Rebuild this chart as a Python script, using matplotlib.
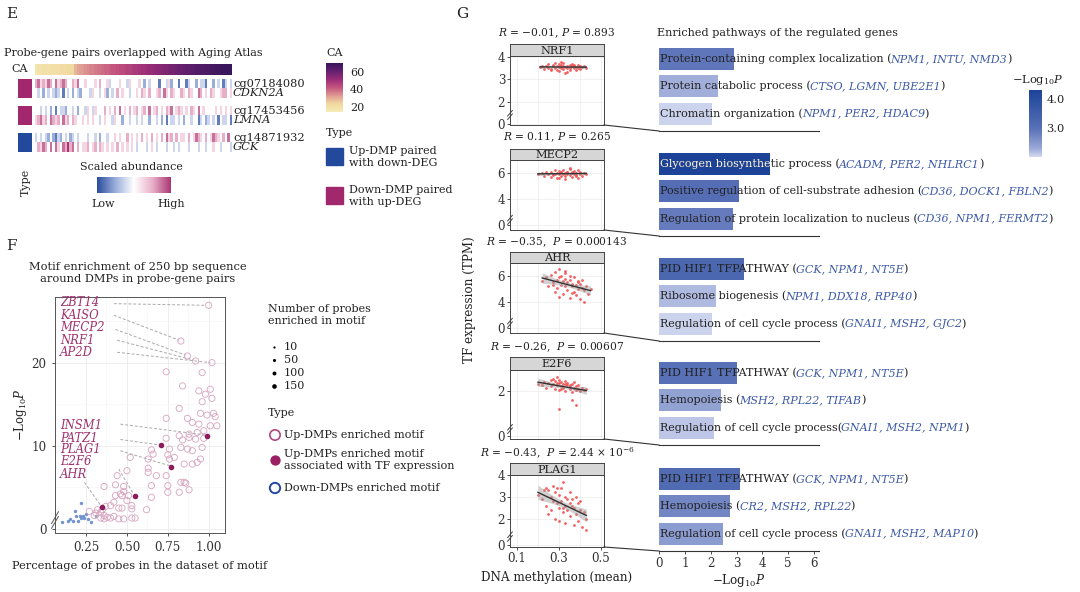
import numpy as np
import matplotlib
matplotlib.use("Agg")
import matplotlib.pyplot as plt
from matplotlib.colors import LinearSegmentedColormap, Normalize
from matplotlib.cm import ScalarMappable

plt.rcParams["font.family"] = ["DejaVu Serif"]
plt.rcParams["mathtext.fontset"] = "custom"
plt.rcParams["mathtext.rm"] = "DejaVu Serif"
plt.rcParams["mathtext.it"] = "DejaVu Serif:italic"
plt.rcParams["mathtext.bf"] = "DejaVu Serif:bold"

W, H = 1080, 592
fig = plt.figure(figsize=(W / 100, H / 100), dpi=100)


def box(x0, y0, x1, y1):
    # pixel box (top-left origin) -> figure fraction rect
    return [x0 / W, 1 - y1 / H, (x1 - x0) / W, (y1 - y0) / H]


TXT = "#222222"
MAG = "#a0306e"
GENE_BLUE = "#3d5aa8"
FS = 8.0

# ---------------- data: panel E ----------------
ca_age = [18, 19, 19, 20, 20, 20, 21, 21, 21, 21, 22, 22, 22, 23, 23, 23,
          29, 31, 32, 33, 34, 35, 36, 36, 37, 38, 38, 39, 40, 40, 41, 42,
          42, 43, 44, 44, 45, 46, 46, 47, 48, 48, 49, 50, 50, 51, 52, 52,
          53, 54, 54, 55, 56, 56, 57, 58, 58, 59, 60, 60, 61, 62, 62, 63,
          63, 64, 64, 65, 65, 66, 66, 67, 67, 68, 68, 69, 69, 70, 70, 70]
row_names = ["cg07184080", "CDKN2A", "cg17453456", "LMNA", "cg14871932", "GCK"]
pair_type = ["Down-DMP paired with up-DEG", "Down-DMP paired with up-DEG",
             "Up-DMP paired with down-DEG"]
# scaled abundance, one digit per sample: 0 = low, 4 = mid, 8 = high
abund_rows = [
    "67565764756764465744" "54445464453444544354" "44542434441443524414" "41344243314424341343",
    "43424343234143424324" "44354434524346454434" "45465464456475465446" "54654476454654456645",
    "44343424143324434244" "35435444645464745464" "56456474564546574565" "45465474544445454545",
    "56756476564756465445" "45454434544354424434" "43434424434241433434" "24434413423434143341",
    "34343242132434234344" "43443424434454544645" "45464546454647564645" "54645765464576546474",
    "46576474754768674645" "56456465454546454545" "43444345434443443434" "44344434434454434443",
]

# ---------------- data: panel F ----------------
up_pct = [1.00, 0.83, 0.87, 0.92, 1.02, 0.74, 0.96, 0.84, 0.94, 0.98, 1.01, 0.96, 1.02,
          0.82, 0.95, 1.03, 0.99, 1.04, 1.05, 0.74, 0.87, 0.90, 0.94, 1.01, 0.97, 0.93,
          0.88, 0.82, 0.74, 0.88, 0.92, 0.97, 0.84, 0.83, 0.76, 0.87, 0.90, 0.96, 0.95,
          0.93, 0.85, 0.90, 0.65, 0.66, 0.63, 0.75, 0.79, 0.76, 0.63, 0.68, 0.74, 0.75,
          0.75, 0.82, 0.83, 0.85, 0.86, 0.88, 0.63, 0.65, 0.65, 0.62, 0.52, 0.50, 0.44,
          0.43, 0.48, 0.48, 0.46, 0.43, 0.47, 0.51, 0.53, 0.50, 0.47, 0.53, 0.45, 0.42,
          0.40, 0.36, 0.37, 0.35, 0.34, 0.32, 0.31, 0.36, 0.38, 0.40, 0.42, 0.45, 0.48,
          0.53, 0.55, 0.27, 0.30, 0.34, 0.36]
up_logp = [26.9, 22.6, 20.8, 20.2, 20.0, 18.9, 18.8, 17.2, 16.6, 16.2, 16.8, 15.3, 15.7,
           14.5, 13.9, 13.9, 13.7, 13.5, 12.4, 13.3, 13.3, 12.8, 12.6, 12.4, 11.8, 11.6,
           11.4, 11.2, 10.9, 11.0, 10.8, 10.9, 10.7, 9.8, 9.6, 9.6, 9.4, 9.8, 8.4,
           8.0, 7.8, 7.8, 9.5, 9.0, 8.4, 8.9, 8.6, 8.4, 7.3, 6.4, 6.4, 5.2,
           4.4, 4.4, 5.6, 5.6, 5.5, 4.7, 6.8, 5.2, 3.8, 2.3, 8.6, 7.0, 6.4,
           5.3, 5.1, 4.5, 4.2, 4.0, 4.0, 4.0, 2.8, 3.4, 2.5, 2.4, 2.5, 3.2,
           2.8, 5.1, 2.7, 2.3, 2.0, 2.3, 1.9, 1.6, 1.4, 1.3, 1.5, 1.2, 1.2,
           1.3, 1.3, 2.1, 1.6, 1.3, 1.2]
tf_pct = [0.99, 0.71, 0.77, 0.55, 0.35]
tf_logp = [11.2, 10.1, 7.5, 4.0, 2.6]
down_pct = [0.10, 0.14, 0.15, 0.18, 0.22, 0.20, 0.22, 0.23, 0.24, 0.26, 0.28, 0.25, 0.31,
            0.19, 0.17, 0.21]
down_logp = [0.85, 0.93, 1.13, 2.14, 3.15, 0.93, 1.33, 1.54, 1.25, 1.21, 0.81, 1.74, 1.54,
             1.54, 0.93, 1.60]
motif_names = ["ZBT14", "KAISO", "MECP2", "NRF1", "AP2D",
               "INSM1", "PATZ1", "PLAG1", "E2F6", "AHR"]
motif_label_y = [27.2, 25.7, 24.2, 22.7, 21.25, 12.4, 10.9, 9.5, 8.1, 6.6]
motif_line_from = [(0.42, 27.1), (0.42, 25.7), (0.43, 24.0), (0.44, 22.7), (0.44, 21.25),
                   (0.46, 12.6), (0.46, 10.75), (0.46, 9.4), (0.45, 7.2), (0.24, 5.6)]
motif_line_to = [(0.98, 26.9), (0.82, 22.7), (0.86, 20.9), (0.91, 20.3), (1.01, 20.0),
                 (0.98, 11.3), (0.70, 10.1), (0.76, 7.6), (0.54, 4.2), (0.34, 2.8)]
size_levels = [10, 50, 100, 150]

# ---------------- data: panel G (scatter) ----------------
tf_names = ["NRF1", "MECP2", "AHR", "E2F6", "PLAG1"]
tf_stats = ["$R$ = \u22120.01, $P$ = 0.893",
            "$R$ = 0.11, $P$ = 0.265",
            "$R$ = \u22120.35,  $P$ = 0.000143",
            "$R$ = \u22120.26,  $P$ = 0.00607",
            "$R$ = \u22120.43,  $P$ = 2.44 \u00d7 10$^{\u22126}$"]
meth = {
    "NRF1": [0.21, 0.22, 0.23, 0.24, 0.25, 0.25, 0.26, 0.27, 0.27, 0.28, 0.28, 0.29, 0.29, 0.30, 0.30,
             0.30, 0.31, 0.31, 0.32, 0.32, 0.32, 0.33, 0.33, 0.34, 0.34, 0.35, 0.35, 0.35, 0.36, 0.36,
             0.37, 0.37, 0.38, 0.38, 0.39, 0.39, 0.40, 0.40, 0.41, 0.42, 0.43, 0.26, 0.31, 0.34, 0.37],
    "MECP2": [0.20, 0.22, 0.23, 0.24, 0.25, 0.26, 0.26, 0.27, 0.28, 0.28, 0.29, 0.29, 0.30, 0.30, 0.31,
              0.31, 0.31, 0.32, 0.32, 0.33, 0.33, 0.33, 0.34, 0.34, 0.35, 0.35, 0.36, 0.36, 0.36, 0.37,
              0.37, 0.38, 0.38, 0.39, 0.39, 0.40, 0.40, 0.41, 0.42, 0.43, 0.27, 0.30, 0.34, 0.38, 0.35],
    "AHR": [0.22, 0.24, 0.25, 0.26, 0.27, 0.28, 0.28, 0.29, 0.29, 0.30, 0.30, 0.31, 0.31, 0.32, 0.32,
            0.33, 0.33, 0.33, 0.34, 0.34, 0.35, 0.35, 0.35, 0.36, 0.36, 0.37, 0.37, 0.38, 0.38, 0.39,
            0.39, 0.40, 0.40, 0.41, 0.41, 0.42, 0.43, 0.44, 0.45, 0.30, 0.33, 0.36, 0.39, 0.27, 0.42],
    "E2F6": [0.20, 0.22, 0.23, 0.24, 0.25, 0.26, 0.26, 0.27, 0.28, 0.28, 0.29, 0.29, 0.30, 0.30, 0.30,
             0.31, 0.31, 0.32, 0.32, 0.33, 0.33, 0.34, 0.34, 0.35, 0.35, 0.36, 0.36, 0.37, 0.37, 0.38,
             0.38, 0.39, 0.39, 0.40, 0.41, 0.42, 0.43, 0.30, 0.38, 0.36, 0.27, 0.33, 0.31, 0.35, 0.29],
    "PLAG1": [0.20, 0.22, 0.23, 0.24, 0.24, 0.25, 0.26, 0.26, 0.27, 0.27, 0.28, 0.28, 0.29, 0.29, 0.30,
              0.30, 0.30, 0.31, 0.31, 0.32, 0.32, 0.33, 0.33, 0.33, 0.34, 0.34, 0.35, 0.35, 0.36, 0.36,
              0.37, 0.37, 0.38, 0.38, 0.39, 0.39, 0.40, 0.40, 0.41, 0.42, 0.43, 0.43, 0.32, 0.35, 0.25],
}
tpm = {
    "NRF1": [3.55, 3.60, 3.48, 3.62, 3.52, 3.70, 3.45, 3.58, 3.66, 3.50, 3.74, 3.42, 3.60, 3.56, 3.68,
             3.38, 3.52, 3.64, 3.47, 3.58, 3.72, 3.55, 3.28, 3.61, 3.49, 3.66, 3.53, 3.40, 3.59, 3.70,
             3.50, 3.62, 3.44, 3.57, 3.65, 3.52, 3.48, 3.60, 3.56, 3.62, 3.50, 3.40, 3.78, 3.35, 3.64],
    "MECP2": [5.90, 6.00, 5.80, 6.10, 5.95, 5.70, 6.05, 5.85, 6.20, 5.95, 6.00, 5.60, 6.15, 5.90, 6.05,
              5.75, 6.10, 5.95, 6.25, 5.80, 6.00, 5.50, 6.10, 5.95, 5.85, 6.30, 6.00, 5.70, 6.05, 5.90,
              6.15, 5.85, 6.00, 5.65, 6.20, 5.95, 6.05, 5.80, 6.00, 5.90, 5.95, 5.60, 6.10, 5.75, 6.35],
    "AHR": [5.6, 5.9, 5.2, 6.1, 5.5, 4.8, 6.3, 5.7, 5.1, 5.9, 6.5, 5.3, 6.0, 4.6, 5.6,
            5.2, 6.2, 5.8, 4.9, 5.5, 5.7, 4.3, 6.0, 5.2, 5.4, 4.8, 5.9, 5.3, 4.5, 5.6,
            5.0, 5.4, 4.2, 5.1, 5.7, 4.9, 5.2, 4.6, 5.0, 4.4, 6.4, 4.7, 5.5, 5.3, 4.0],
    "E2F6": [2.30, 2.25, 2.40, 2.15, 2.35, 2.50, 2.20, 2.30, 2.45, 2.10, 2.60, 2.25, 2.35, 2.05, 2.50,
             2.20, 2.40, 2.15, 2.30, 2.45, 2.00, 2.25, 2.35, 2.10, 2.20, 2.30, 1.95, 2.15, 2.40, 2.05,
             2.20, 2.10, 2.25, 2.00, 2.15, 2.05, 2.10, 1.20, 1.40, 1.60, 2.55, 2.30, 2.10, 2.25, 2.35],
    "PLAG1": [3.1, 2.9, 3.3, 2.6, 3.4, 2.2, 3.0, 2.4, 3.5, 2.8, 3.2, 2.0, 2.7, 3.4, 2.5,
              3.1, 1.9, 2.8, 3.4, 2.3, 3.7, 2.6, 3.0, 1.8, 2.4, 2.9, 3.2, 2.1, 2.6, 2.9,
              1.7, 2.5, 2.2, 3.0, 2.7, 1.9, 2.4, 2.8, 1.6, 2.3, 2.0, 1.5, 2.5, 2.7, 3.3],
}
tf_ylim = [(0.95, 4.05), (1.6, 7.0), (1.6, 7.0), (-0.13, 2.93), (0.7, 4.0)]
tf_yticks = [[1, 2, 3, 4], [2, 4, 6], [2, 4, 6], [0, 2], [0.8, 2, 3, 4]]
tf_yticklabels = [["0", "2", "3", "4"], ["0", "4", "6"], ["0", "4", "6"], ["0", "2"],
                  ["0", "2", "3", "4"]]

# ---------------- data: panel G (pathways) ----------------
pathways = ["Protein-containing complex localization", "Protein catabolic process",
            "Chromatin organization",
            "Glycogen biosynthetic process", "Positive regulation of cell-substrate adhesion",
            "Regulation of protein localization to nucleus",
            "PID HIF1 TFPATHWAY", "Ribosome biogenesis", "Regulation of cell cycle process",
            "PID HIF1 TFPATHWAY", "Hemopoiesis", "Regulation of cell cycle process",
            "PID HIF1 TFPATHWAY", "Hemopoiesis", "Regulation of cell cycle process"]
openers = [" ("] * 15
openers[11] = "("
path_genes = ["NPM1, INTU, NMD3", "CTSO, LGMN, UBE2E1", "NPM1, PER2, HDAC9",
              "ACADM, PER2, NHLRC1", "CD36, DOCK1, FBLN2", "CD36, NPM1, FERMT2",
              "GCK, NPM1, NT5E", "NPM1, DDX18, RPP40", "GNAI1, MSH2, GJC2",
              "GCK, NPM1, NT5E", "MSH2, RPL22, TIFAB", "GNAI1, MSH2, NPM1",
              "GCK, NPM1, NT5E", "CR2, MSH2, RPL22", "GNAI1, MSH2, MAP10"]
path_logp = [2.92, 2.27, 2.04, 4.30, 3.08, 2.85, 3.27, 2.19, 2.04,
             3.00, 2.38, 2.12, 3.15, 2.73, 2.46]

# ---------------- colours ----------------
ca_cmap = LinearSegmentedColormap.from_list(
    "ca", ["#f6ebb6", "#f1d9a0", "#df9a92", "#c4557f", "#9a2c78", "#64206f", "#38165c"])
ab_cmap = LinearSegmentedColormap.from_list(
    "ab", ["#2a4c9c", "#9aaedb", "#ffffff", "#e8b0c8", "#ab3573"])
lp_cmap = LinearSegmentedColormap.from_list(
    "lp", [(0.0, "#d3d9ef"), (0.13, "#9aa8d7"), (0.43, "#5870b6"), (1.0, "#1c4398")])
type_col = {"Up-DMP paired with down-DEG": "#22499c", "Down-DMP paired with up-DEG": "#a2286e"}

ov = fig.add_axes([0, 0, 1, 1], zorder=10)
ov.set_xlim(0, W)
ov.set_ylim(H, 0)
ov.axis("off")

# ================= Panel E =================
ov.text(6, 14, "E", fontsize=11, va="center", color=TXT)
ov.text(4, 53, "Probe-gene pairs overlapped with Aging Atlas", fontsize=FS, va="center", color=TXT)
ov.text(11, 69, "CA", fontsize=FS, va="center", color=TXT)

ax_ca = fig.add_axes(box(35, 64, 231, 75))
ax_ca.imshow(np.array([ca_age]), aspect="auto", cmap=ca_cmap, vmin=14.4, vmax=70,
             interpolation="nearest")
ax_ca.axis("off")

abund = np.array([[(int(c) - 4) / 4 for c in r] for r in abund_rows])
pair_y = [(79, 98), (106, 125), (133, 152)]
for p, (y0, y1) in enumerate(pair_y):
    a = fig.add_axes(box(35, y0, 231, y1))
    a.imshow(abund[2 * p:2 * p + 2], aspect="auto", cmap=ab_cmap, vmin=-1, vmax=1,
             interpolation="nearest")
    a.axis("off")
    t = fig.add_axes(box(18, y0, 32, y1))
    t.set_facecolor(type_col[pair_type[p]])
    t.set_xticks([])
    t.set_yticks([])
    for s in t.spines.values():
        s.set_visible(False)
    ov.text(233, y0 + 4.8, row_names[2 * p], fontsize=8.2, va="center", color=TXT)
    ov.text(233, y0 + 14.4, row_names[2 * p + 1], fontsize=8.2, va="center",
            style="italic", color=TXT)

ov.text(26, 182, "Type", fontsize=FS, rotation=90, ha="center", va="center", color=TXT)
ov.text(131, 167, "Scaled abundance", fontsize=FS, ha="center", va="center", color=TXT)
ax_ab = fig.add_axes(box(97, 177, 171, 193))
cb_ab = fig.colorbar(ScalarMappable(Normalize(-1, 1), ab_cmap), cax=ax_ab, orientation="horizontal")
cb_ab.outline.set_visible(False)
ax_ab.set_xticks([])
ov.text(103, 204, "Low", fontsize=FS, ha="center", va="center", color=TXT)
ov.text(171, 204, "High", fontsize=FS, ha="center", va="center", color=TXT)

# CA / Type legends
ov.text(326, 53, "CA", fontsize=FS, va="center", color=TXT)
ax_cal = fig.add_axes(box(326, 63, 343, 112))
cb = fig.colorbar(ScalarMappable(Normalize(14.4, 70), ca_cmap), cax=ax_cal)
cb.outline.set_visible(False)
cb.set_ticks([20, 40, 60])
ax_cal.tick_params(length=0, labelsize=FS, pad=5, colors=TXT)
ov.text(326, 133, "Type", fontsize=FS, va="center", color=TXT)
legend_types = ["Up-DMP paired\nwith down-DEG", "Down-DMP paired\nwith up-DEG"]
for k, (lbl, key, yc) in enumerate(zip(legend_types, list(type_col.keys()), [157, 196])):
    ov.add_patch(plt.Rectangle((326, yc - 9), 17, 17, color=type_col[key]))
    ov.text(349, yc, lbl, fontsize=FS, va="center", color=TXT, linespacing=1.25)

# ================= Panel F =================
ov.text(6, 246, "F", fontsize=11, va="center", color=TXT)
ov.text(138, 273, "Motif enrichment of 250 bp sequence\naround DMPs in probe-gene pairs",
        fontsize=8.2, ha="center", va="center", color=TXT, linespacing=1.2)
axf = fig.add_axes(box(55, 297, 225, 533))
axf.set_xlim(0.06, 1.10)
axf.set_ylim(-0.5, 27.9)
axf.set_xticks([0.25, 0.50, 0.75, 1.00])
axf.set_xticklabels(["0.25", "0.50", "0.75", "1.00"])
axf.set_yticks([0, 10, 20])
axf.set_xticks([0.375, 0.625, 0.875], minor=True)
axf.set_yticks([5, 15, 25], minor=True)
axf.grid(True, which="major", color="#ebebeb", lw=0.6)
axf.grid(True, which="minor", color="#f4f4f4", lw=0.4)
axf.set_axisbelow(True)
axf.tick_params(which="major", labelsize=8.6, length=2.5, width=0.6, colors="#333333")
axf.tick_params(which="minor", length=0)
for s in axf.spines.values():
    s.set_color("#555555")
    s.set_linewidth(0.7)
for (x0, y0), (x1, y1) in zip(motif_line_from, motif_line_to):
    axf.plot([x0, x1], [y0, y1], ls=(0, (3, 2)), color="#a9a9a9", lw=0.7, zorder=1)
axf.scatter(down_pct, down_logp, s=6, color="#7393d0", zorder=2, lw=0)
axf.scatter(up_pct, up_logp, s=20, facecolor="none", edgecolor="#d6a3be", lw=0.6, zorder=3)
axf.scatter(tf_pct, tf_logp, s=16, color="#8c1a5c", zorder=4, lw=0)
for name, yy in zip(motif_names, motif_label_y):
    axf.text(0.09, yy, name, fontsize=8.4, style="italic", color=MAG, va="center")
axf.plot([-0.02, 0.02], [0.02, 0.07], transform=axf.transAxes, color="#555555", lw=0.7,
         clip_on=False)
axf.plot([-0.02, 0.02], [0.04, 0.09], transform=axf.transAxes, color="#555555", lw=0.7,
         clip_on=False)
axf.set_xlabel("Percentage of probes in the dataset of motif", fontsize=8.2, color=TXT,
               labelpad=5)
axf.set_ylabel("\u2212Log$_{10}$$P$", fontsize=8.4, color=TXT, labelpad=2)

# F legend
ov.text(268, 315, "Number of probes\nenriched in motif", fontsize=FS, va="center",
        color=TXT, linespacing=1.25)
for lev, yy in zip(size_levels, [347, 360, 373, 386]):
    ov.scatter([274], [yy], s=2 + lev * 0.06, color="black", lw=0)
    ov.text(284, yy, str(lev), fontsize=FS, va="center", color=TXT)
ov.text(268, 413, "Type", fontsize=FS, va="center", color=TXT)
ov.scatter([275], [435], s=55, facecolor="none", edgecolor="#b0457f", lw=1.2)
ov.text(284, 435, "Up-DMPs enriched motif", fontsize=FS, va="center", color=TXT)
ov.scatter([275], [460], s=55, color="#9b1f63", lw=0)
ov.text(284, 460, "Up-DMPs enriched motif\nassociated with TF expression", fontsize=FS,
        va="center", color=TXT, linespacing=1.2)
ov.scatter([275], [488], s=55, facecolor="none", edgecolor="#22499c", lw=1.4)
ov.text(284, 488, "Down-DMPs enriched motif", fontsize=FS, va="center", color=TXT)

# ================= Panel G: scatter =================
ov.text(456, 14, "G", fontsize=11, va="center", color=TXT)
strip_top = [44, 149, 252, 357, 463]
plot_top = [56, 160, 263, 370, 475]
plot_bot = [125, 230, 333, 439, 547]
title_y = [33, 137, 242, 347, 453]
baselines = [131, 236, 341, 445, 551]

for k, tf in enumerate(tf_names):
    x = np.array(meth[tf])
    y = np.array(tpm[tf])
    ax = fig.add_axes(box(510, plot_top[k], 604, plot_bot[k]))
    ax.set_xlim(0.067, 0.514)
    ax.set_ylim(*tf_ylim[k])
    ax.set_xticks([0.1, 0.3, 0.5])
    ax.set_xticks([0.2, 0.4], minor=True)
    ax.set_yticks(tf_yticks[k])
    ax.set_yticklabels(tf_yticklabels[k])
    ax.grid(True, which="both", color="#ebebeb", lw=0.5)
    ax.set_axisbelow(True)
    ax.tick_params(which="major", labelsize=8.6, length=2, width=0.6, pad=1.5, colors="#333333")
    ax.tick_params(which="minor", length=0)
    if k < 4:
        ax.set_xticklabels([])
        ax.tick_params(axis="x", length=0)
    for s in ax.spines.values():
        s.set_color("#444444")
        s.set_linewidth(0.7)
    ax.scatter(x, y, s=4, color="#f05050", lw=0, alpha=0.9, zorder=3)
    # linear fit with 95% band
    b, a0 = np.polyfit(x, y, 1)
    xs = np.linspace(x.min(), x.max(), 50)
    yh = a0 + b * xs
    res = y - (a0 + b * x)
    se = np.sqrt(np.sum(res ** 2) / (len(x) - 2))
    band = 2.0 * se * np.sqrt(1 / len(x) + (xs - x.mean()) ** 2 / np.sum((x - x.mean()) ** 2))
    ax.fill_between(xs, yh - band, yh + band, color="#999999", alpha=0.45, lw=0, zorder=4)
    ax.plot(xs, yh, color="#333333", lw=1.0, zorder=5)
    for dy in (0.0, 0.05):
        ax.plot([-0.025, 0.025], [0.08 + dy, 0.16 + dy], transform=ax.transAxes,
                color="#444444", lw=0.7, clip_on=False)
    st = fig.add_axes(box(510, strip_top[k], 604, plot_top[k]))
    st.set_facecolor("#d6d6d6")
    st.set_xticks([])
    st.set_yticks([])
    for s in st.spines.values():
        s.set_color("#444444")
        s.set_linewidth(0.7)
    st.text(0.5, 0.45, tf, transform=st.transAxes, ha="center", va="center", fontsize=8.2,
            color=TXT)
    ov.text(557, title_y[k], tf_stats[k], fontsize=7.7, ha="center", va="center", color=TXT)
    # connector to the pathway group
    ov.plot([604, 659], [plot_bot[k], baselines[k]], color="#333333", lw=0.8)
    if k == 4:
        ax.set_xticklabels(["0.1", "0.3", "0.5"])

ov.text(470, 300, "TF expression (TPM)", fontsize=8.6, rotation=90, ha="center",
        va="center", color=TXT)
ov.text(557, 578, "DNA methylation (mean)", fontsize=8.6, ha="center", va="center", color=TXT)

# ================= Panel G: pathways =================
ov.text(657, 33, "Enriched pathways of the regulated genes", fontsize=8.1, va="center", color=TXT)
lp_norm = Normalize(2.0, 4.31)
PFS = 8.0
for g in range(5):
    base = baselines[g]
    ax = fig.add_axes(box(659, base - 86, 819, base))
    ax.set_xlim(0, 6.19)
    ax.set_ylim(2.63, -0.5)
    ids = list(range(3 * g, 3 * g + 3))
    vals = [path_logp[i] for i in ids]
    bars = ax.barh(np.arange(3), vals, height=0.8, color=lp_cmap(lp_norm(vals)), lw=0)
    ax.set_yticks([])
    for s in ["top", "left", "right"]:
        ax.spines[s].set_visible(False)
    ax.spines["bottom"].set_color("#333333")
    ax.spines["bottom"].set_linewidth(0.8)
    ax.patch.set_visible(False)
    if g < 4:
        ax.set_xticks([])
    else:
        ax.set_xticks(range(7))
        ax.tick_params(axis="x", labelsize=8.6, length=2.5, width=0.6, pad=1.5, colors="#333333")
        ax.set_xlabel("\u2212Log$_{10}$$P$", fontsize=8.6, color=TXT, labelpad=2)
    for j, i in enumerate(ids):
        t1 = ax.text(0.05, j, pathways[i] + openers[i], fontsize=PFS, va="center", color=TXT)
        if path_logp[i] > 4:
            tw = ax.text(0.05, j, pathways[i] + openers[i], fontsize=PFS, va="center",
                         color="white", clip_on=True)
            tw.set_clip_path(bars[j])
        t2 = ax.annotate(path_genes[i], xy=(1, 0.5), xycoords=t1, xytext=(-0.8, 0),
                         textcoords="offset points", va="center", ha="left",
                         fontsize=PFS, style="italic", color=GENE_BLUE)
        ax.annotate(")", xy=(1, 0.5), xycoords=t2, xytext=(-0.4, 0),
                    textcoords="offset points", va="center", ha="left", fontsize=PFS,
                    color=TXT)

ov.text(1038, 80, "\u2212Log$_{10}$$P$", fontsize=8.2, ha="center", va="center", color=TXT)
ax_lp = fig.add_axes(box(1029, 90, 1042, 157))
cb2 = fig.colorbar(ScalarMappable(lp_norm, lp_cmap), cax=ax_lp)
cb2.outline.set_visible(False)
cb2.set_ticks([3.0, 4.0])
cb2.set_ticklabels(["3.0", "4.0"])
ax_lp.tick_params(length=0, labelsize=8.2, pad=3, colors=TXT)

fig.savefig("out.png", dpi=100)
